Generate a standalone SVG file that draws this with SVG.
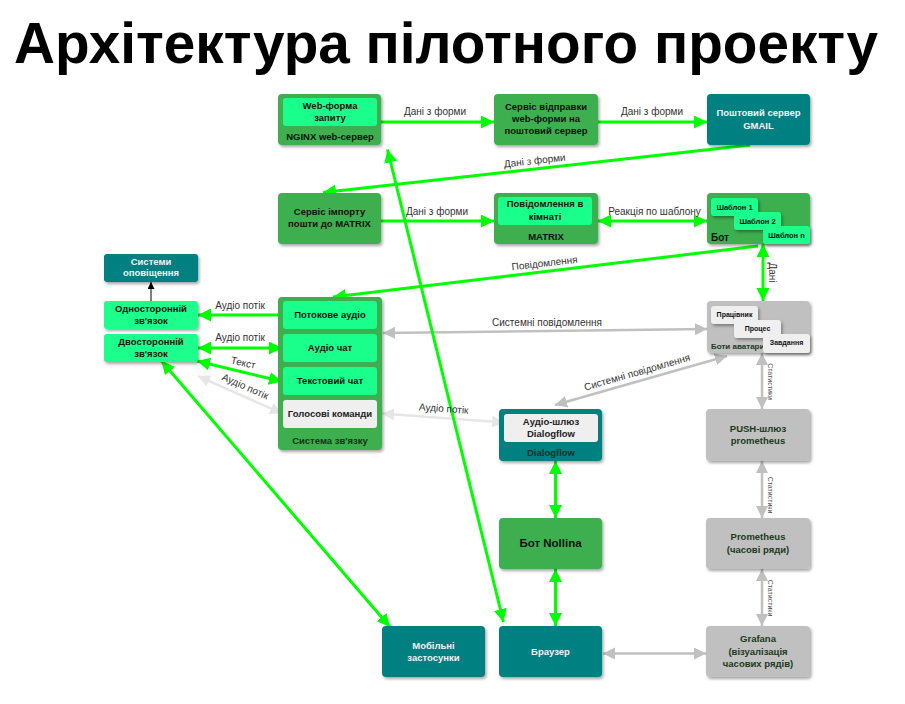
<svg xmlns="http://www.w3.org/2000/svg" width="905" height="704" viewBox="0 0 905 704">
<style>
text{font-family:"Liberation Sans",Arial,sans-serif}
.title{font-size:58px;font-weight:bold;fill:#000}
.g{fill:#3daf50}
.lg{fill:#1aff8c}
.t{fill:#008080}
.gr{fill:#c0c0c0}
.wh{fill:#efefef}
.nt{font-size:9.5px;font-weight:bold;fill:#111;text-anchor:middle}
.ntw{font-size:9.5px;font-weight:bold;fill:#f2f2f2;text-anchor:middle}
.ntg{font-size:9.5px;font-weight:bold;fill:#1b3a1b;text-anchor:middle}
.sm{font-size:7.5px;font-weight:bold;fill:#111;text-anchor:middle}
.lb{font-size:10px;fill:#333;text-anchor:middle}
.st{font-size:7px;fill:#555;text-anchor:middle}
.cg{stroke:#00ff00;stroke-width:3;fill:none}
.cy{stroke:#c0c0c0;stroke-width:2.5;fill:none}
.cl{stroke:#e6e6e6;stroke-width:2.5;fill:none}
.ck{stroke:#000;stroke-width:1;fill:none}
.sh{filter:url(#ds)}
</style>
<defs>
<filter id="ds" x="-20%" y="-20%" width="140%" height="150%">
<feDropShadow dx="1.5" dy="2" stdDeviation="1.5" flood-color="#000" flood-opacity="0.35"/>
</filter>
<marker id="ag" markerUnits="userSpaceOnUse" markerWidth="14" markerHeight="14" refX="13" refY="6.5" orient="auto-start-reverse"><path d="M0,0 L13,6.5 L0,13 z" fill="#00ff00"/></marker>
<marker id="ay" markerUnits="userSpaceOnUse" markerWidth="14" markerHeight="14" refX="12" refY="6" orient="auto-start-reverse"><path d="M0,0 L12,6 L0,12 z" fill="#c0c0c0"/></marker>
<marker id="al" markerUnits="userSpaceOnUse" markerWidth="14" markerHeight="14" refX="12" refY="6" orient="auto-start-reverse"><path d="M0,0 L12,6 L0,12 z" fill="#e6e6e6"/></marker>
<marker id="ak" markerUnits="userSpaceOnUse" markerWidth="8" markerHeight="8" refX="7" refY="3.5" orient="auto-start-reverse"><path d="M0,0 L7,3.5 L0,7 z" fill="#000"/></marker>
</defs>
<rect width="905" height="704" fill="#fff"/>
<text class="title" x="14" y="63" textLength="864" lengthAdjust="spacingAndGlyphs">Архітектура пілотного проекту</text>

<g id="connectors">
<line class="cg" x1="377" y1="122" x2="494" y2="122" marker-end="url(#ag)"/>
<line class="cg" x1="598" y1="122" x2="707" y2="122" marker-end="url(#ag)"/>
<line class="cg" x1="750" y1="145" x2="323" y2="192.5" marker-end="url(#ag)"/>
<line class="cg" x1="381" y1="221" x2="494" y2="221" marker-end="url(#ag)"/>
<line class="cg" x1="598" y1="221" x2="707" y2="221" marker-start="url(#ag)" marker-end="url(#ag)"/>
<line class="cg" x1="758" y1="246" x2="333" y2="297" marker-end="url(#ag)"/>
<line class="cg" x1="763" y1="244" x2="763" y2="301" marker-start="url(#ag)" marker-end="url(#ag)"/>
<line class="cy" x1="383" y1="333" x2="707" y2="329" marker-start="url(#ay)" marker-end="url(#ay)"/>
<line class="cy" x1="555" y1="405" x2="727" y2="356" marker-start="url(#ay)" marker-end="url(#ay)"/>
<line class="cl" x1="382" y1="413.5" x2="504" y2="422.5" marker-start="url(#al)" marker-end="url(#al)"/>
<line class="cy" x1="762" y1="353" x2="762" y2="409" marker-start="url(#ay)" marker-end="url(#ay)"/>
<line class="cy" x1="762" y1="461" x2="762" y2="518" marker-start="url(#ay)" marker-end="url(#ay)"/>
<line class="cy" x1="762" y1="569" x2="762" y2="626" marker-start="url(#ay)" marker-end="url(#ay)"/>
<line class="cy" x1="603" y1="653.5" x2="706" y2="653.5" marker-start="url(#ay)" marker-end="url(#ay)"/>
<line class="cg" x1="555.5" y1="461" x2="555.5" y2="518" marker-start="url(#ag)" marker-end="url(#ag)"/>
<line class="cg" x1="555.5" y1="569" x2="555.5" y2="626" marker-start="url(#ag)" marker-end="url(#ag)"/>
<line class="cg" x1="387.5" y1="149.5" x2="503.5" y2="622" marker-start="url(#ag)" marker-end="url(#ag)"/>
<line class="cg" x1="161.5" y1="361" x2="390" y2="627" marker-start="url(#ag)" marker-end="url(#ag)"/>
<line class="cg" x1="282" y1="315" x2="198" y2="315" marker-end="url(#ag)"/>
<line class="cg" x1="198" y1="348" x2="282" y2="348" marker-start="url(#ag)" marker-end="url(#ag)"/>
<line class="cg" x1="197" y1="361" x2="282" y2="381.5" marker-start="url(#ag)" marker-end="url(#ag)"/>
<line class="cl" x1="198" y1="376" x2="282" y2="413.5" marker-start="url(#al)" marker-end="url(#al)"/>
<line class="ck" x1="151" y1="301" x2="151" y2="282" marker-end="url(#ak)"/>

<text class="lb" x="435" y="115">Дані з форми</text>
<text class="lb" x="652" y="115">Дані з форми</text>
<text class="lb" x="535" y="164" transform="rotate(-6.3 535 164)">Дані з форми</text>
<text class="lb" x="437" y="214.5">Дані з форми</text>
<text class="lb" x="654.5" y="214.5">Реакція по шаблону</text>
<text class="lb" x="545" y="266.5" transform="rotate(-6.6 545 266.5)">Повідомлення</text>
<text class="lb" x="772" y="272.5" transform="rotate(90 772 272.5)" dy="3.5">Дані</text>
<text class="lb" x="547" y="325.5">Системні повідомлення</text>
<text class="lb" x="638" y="375.5" transform="rotate(-16 638 375.5)">Системні повідомлення</text>
<text class="lb" x="443.5" y="412" transform="rotate(4 443.5 412)">Аудіо потік</text>
<text class="lb" x="240" y="308.5">Аудіо потік</text>
<text class="lb" x="240" y="341">Аудіо потік</text>
<text class="lb" x="242.5" y="366" transform="rotate(13 242.5 366)">Текст</text>
<text class="lb" x="244" y="389.5" transform="rotate(24 244 389.5)">Аудіо потік</text>
<text class="st" x="770.5" y="381.5" dy="2.4" transform="rotate(90 770.5 381.5)">Статистики</text>
<text class="st" x="770.5" y="495" dy="2.4" transform="rotate(90 770.5 495)">Статистики</text>
<text class="st" x="770.5" y="598" dy="2.4" transform="rotate(90 770.5 598)">Статистики</text>
</g>

<g id="nginx">
<rect class="g sh" x="278" y="94" width="103" height="51" rx="4"/>
<rect class="lg" x="283" y="98" width="94" height="28" rx="3"/>
<text class="nt" x="330" y="109">Web-форма</text>
<text class="nt" x="330" y="121">запиту</text>
<text class="nt" x="330" y="140">NGINX web-сервер</text>
</g>
<g id="send-service">
<rect class="g sh" x="494" y="94" width="104" height="51" rx="4"/>
<text class="nt" x="546" y="110">Сервіс відправки</text>
<text class="nt" x="546" y="122">web-форми на</text>
<text class="nt" x="546" y="134">поштовий сервер</text>
</g>
<g id="gmail">
<rect class="t sh" x="707" y="94" width="103" height="51" rx="4"/>
<text class="ntw" x="758.5" y="116">Поштовий сервер</text>
<text class="ntw" x="758.5" y="128.5">GMAIL</text>
</g>
<g id="import-service">
<rect class="g sh" x="278" y="193" width="103" height="51" rx="4"/>
<text class="nt" x="329.5" y="215">Сервіс імпорту</text>
<text class="nt" x="329.5" y="227">пошти до MATRIX</text>
</g>
<g id="matrix">
<rect class="g sh" x="494" y="193" width="104" height="51" rx="4"/>
<rect class="lg" x="498" y="197" width="94" height="28" rx="3"/>
<text class="nt" x="545" y="207">Повідомлення в</text>
<text class="nt" x="545" y="219.5">кімнаті</text>
<text class="nt" x="546" y="239.5">MATRIX</text>
</g>
<g id="bot">
<rect class="g sh" x="707" y="193" width="103" height="51" rx="4"/>
<rect class="lg sh" x="711" y="198" width="47" height="18" rx="3"/>
<text class="sm" x="734.5" y="209.5">Шаблон 1</text>
<rect class="lg sh" x="734" y="212" width="47" height="18" rx="3"/>
<text class="sm" x="757.5" y="223.5">Шаблон 2</text>
<rect class="lg sh" x="763" y="226" width="47" height="18" rx="3"/>
<text class="sm" x="786.5" y="237.5">Шаблон n</text>
<text x="711" y="240.5" style="font-size:10px;font-weight:bold;fill:#111">Бот</text>
</g>
<g id="alert-systems">
<rect class="t sh" x="104" y="254" width="94" height="28" rx="3"/>
<text class="ntw" x="151" y="264.5">Системи</text>
<text class="ntw" x="151" y="276">оповіщення</text>
</g>
<g id="one-way">
<rect class="lg sh" x="104" y="301" width="94" height="28" rx="3"/>
<text class="nt" x="151" y="311.5">Односторонній</text>
<text class="nt" x="151" y="323.5">зв'язок</text>
</g>
<g id="two-way">
<rect class="lg sh" x="104" y="334" width="94" height="28" rx="3"/>
<text class="nt" x="151" y="344.5">Двосторонній</text>
<text class="nt" x="151" y="357">зв'язок</text>
</g>
<g id="comm-system">
<rect class="g sh" x="278" y="297" width="104" height="153" rx="4"/>
<rect class="lg" x="283" y="301" width="94" height="28" rx="3"/>
<text class="nt" x="330" y="318">Потокове аудіо</text>
<rect class="lg" x="283" y="334" width="94" height="28" rx="3"/>
<text class="nt" x="330" y="351">Аудіо чат</text>
<rect class="lg" x="283" y="367" width="94" height="28" rx="3"/>
<text class="nt" x="330" y="384">Текстовий чат</text>
<rect class="wh" x="283" y="400" width="94" height="28" rx="3"/>
<text class="nt" x="330" y="417" style="fill:#222">Голосові команди</text>
<text class="nt" x="330" y="444" style="fill:#143214">Система зв'язку</text>
</g>
<g id="avatar-bots">
<rect class="gr sh" x="707" y="301" width="103" height="52" rx="4"/>
<rect class="wh sh" x="711" y="306" width="47" height="18" rx="3"/>
<text class="sm" x="734.5" y="317" style="font-size:7px">Працівник</text>
<rect class="wh sh" x="734" y="320" width="47" height="18" rx="3"/>
<text class="sm" x="757.5" y="331" style="font-size:7px">Процес</text>
<text x="711" y="349" style="font-size:8px;font-weight:bold;fill:#1b3a1b">Боти аватари</text>
<rect class="wh sh" x="763" y="334" width="47" height="19" rx="3"/>
<text class="sm" x="786.5" y="345" style="font-size:7px">Завдання</text>
</g>
<g id="dialogflow">
<rect class="t sh" x="499" y="409" width="103" height="52" rx="4"/>
<rect class="wh" x="504" y="414" width="94" height="28" rx="3"/>
<text class="nt" x="551" y="425" style="fill:#222">Аудіо-шлюз</text>
<text class="nt" x="551" y="437" style="fill:#222">Dialogflow</text>
<text class="nt" x="551" y="455.5" style="fill:#14322a">Dialogflow</text>
</g>
<g id="push-gateway">
<rect class="gr sh" x="706" y="409" width="104" height="52" rx="4"/>
<text class="ntg" x="758" y="431.5">PUSH-шлюз</text>
<text class="ntg" x="758" y="444">prometheus</text>
</g>
<g id="nollina">
<rect class="g sh" x="499" y="518" width="103" height="51" rx="4"/>
<text class="nt" x="550.5" y="547" style="font-size:11.5px">Бот Nollina</text>
</g>
<g id="prometheus">
<rect class="gr sh" x="706" y="518" width="104" height="51" rx="4"/>
<text class="ntg" x="758" y="540">Prometheus</text>
<text class="ntg" x="758" y="552.5">(часові ряди)</text>
</g>
<g id="mobile">
<rect class="t sh" x="382" y="626" width="103" height="51" rx="4"/>
<text class="ntw" x="433.5" y="648.5">Мобільні</text>
<text class="ntw" x="433.5" y="660.5">застосунки</text>
</g>
<g id="browser">
<rect class="t sh" x="499" y="626" width="103" height="51" rx="4"/>
<text class="ntw" x="550.5" y="654.5">Браузер</text>
</g>
<g id="grafana">
<rect class="gr sh" x="706" y="626" width="104" height="51" rx="4"/>
<text class="ntg" x="758" y="642">Grafana</text>
<text class="ntg" x="758" y="654.5">(візуалізація</text>
<text class="ntg" x="758" y="667">часових рядів)</text>
</g>
</svg>
